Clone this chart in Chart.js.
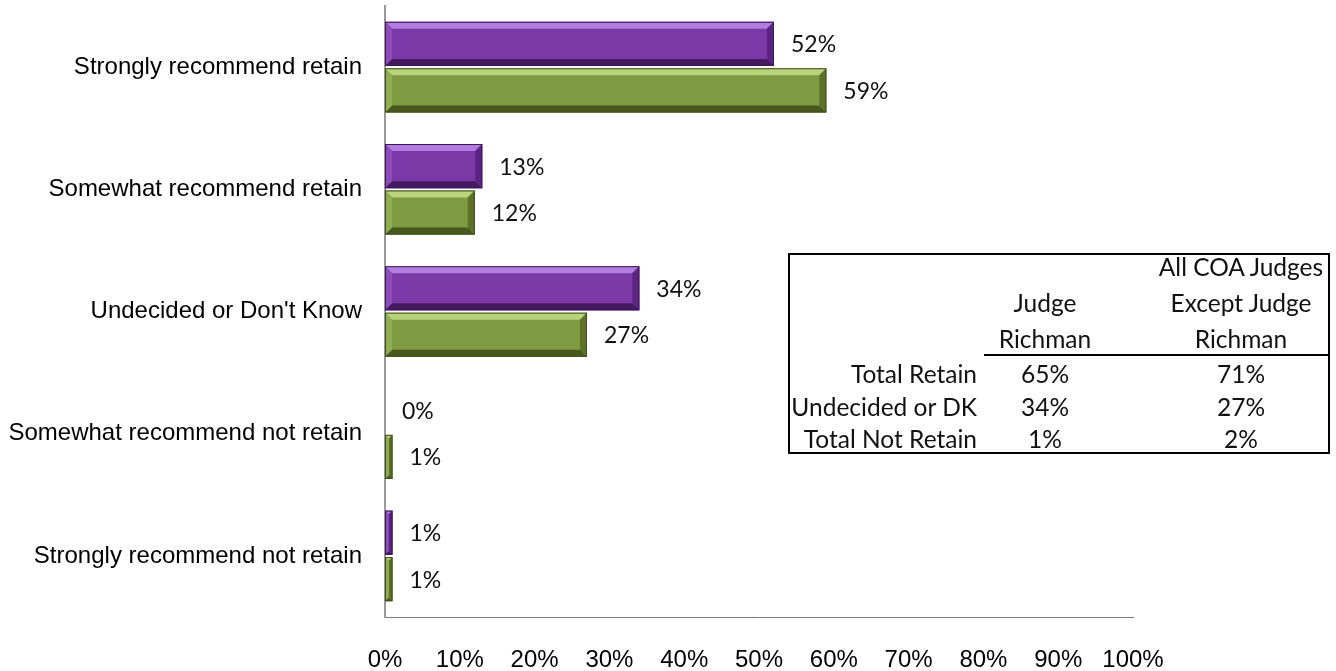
<!DOCTYPE html>
<html>
<head>
<meta charset="utf-8">
<script src="https://cdn.jsdelivr.net/npm/chart.js@4.4.1/dist/chart.umd.min.js"></script>
<style>
  html, body { margin: 0; padding: 0; background: #ffffff; }
  #wrap { position: relative; width: 1336px; height: 671px; overflow: hidden; }
  #chart { position: absolute; left: 0; top: 0; }
  #tbl { position: absolute; left: 788px; top: 253px; width: 542px; height: 201px;
         border: 2px solid #000; box-sizing: border-box; font-family: Lato, "Open Sans", sans-serif;
         font-size: 24.5px; color: #111; }
  .cell { position: absolute; white-space: nowrap; line-height: 1; transform: translateY(-50%); }
  .rlab { text-align: right; }
  .ctr { transform: translate(-50%, -50%); text-align: center; }
  #hline { position: absolute; left: 194px; right: 0; top: 99px; height: 2px; background: #000; }
</style>
</head>
<body>
<div id="wrap">
  <canvas id="chart" width="1336" height="671"></canvas>
  <div id="tbl"></div>
</div>
<script>
// ---- data ----
const categories = [
  "Strongly recommend retain",
  "Somewhat recommend retain",
  "Undecided or Don't Know",
  "Somewhat recommend not retain",
  "Strongly recommend not retain"
];
const judgeRichman = [52, 13, 34, 0, 1];
const allCoaJudges = [59, 12, 27, 1, 1];
const xTickValues = [0, 10, 20, 30, 40, 50, 60, 70, 80, 90, 100];

const tableHeader1 = ["Judge", "Richman"];
const tableHeader2 = ["All COA Judges", "Except Judge", "Richman"];
const tableRowLabels = ["Total Retain", "Undecided or DK", "Total Not Retain"];
const tableJudge = ["65%", "34%", "1%"];
const tableAll = ["71%", "27%", "2%"];

// ---- table overlay ----
(function buildTable() {
  const t = document.getElementById('tbl');
  const add = (txt, cls, x, y, right) => {
    const d = document.createElement('div');
    d.className = 'cell ' + cls;
    d.textContent = txt;
    d.style.top = y + 'px';
    if (right !== undefined) { d.style.right = right + 'px'; }
    else { d.style.left = x + 'px'; }
    t.appendChild(d);
  };
  const c1 = 1045 - 790, c2 = 1241 - 790;
  const hdrY = [12, 48, 84];
  tableHeader2.forEach((s, i) => add(s, 'ctr', c2, hdrY[i]));
  tableHeader1.forEach((s, i) => add(s, 'ctr', c1, hdrY[i + 1]));
  const rowY = [119, 152, 184];
  tableRowLabels.forEach((s, i) => add(s, 'rlab', 0, rowY[i], 542 - 191));
  tableJudge.forEach((s, i) => add(s, 'ctr', c1, rowY[i]));
  tableAll.forEach((s, i) => add(s, 'ctr', c2, rowY[i]));
  const h = document.createElement('div'); h.id = 'hline'; t.appendChild(h);
})();

// ---- bevel plugin ----
const palette = [
  { main: '#7a39a6', light: '#b17ee0', dark: '#45195f', side: '#5a2480', left: '#8c4cba', border: '#3d1656' },
  { main: '#7e9b42', light: '#b9d27c', dark: '#48591f', side: '#5c7229', left: '#8fad52', border: '#3f4e1b' }
];

const bevelPlugin = {
  id: 'bevel',
  afterDatasetsDraw(chart) {
    const ctx = chart.ctx;
    chart.data.datasets.forEach((ds, di) => {
      const meta = chart.getDatasetMeta(di);
      const p = palette[di];
      meta.data.forEach((el) => {
        const { x, y, base, height } = el.getProps(['x', 'y', 'base', 'height'], true);
        const l = Math.min(x, base), r = Math.max(x, base);
        const t = y - height / 2, b = y + height / 2;
        const w = r - l;
        if (w < 0.5) return;
        const bv = Math.min(7, w / 2, height / 2);
        ctx.save();
        ctx.fillStyle = p.light;
        ctx.beginPath(); ctx.moveTo(l, t); ctx.lineTo(r, t); ctx.lineTo(r - bv, t + bv); ctx.lineTo(l + bv, t + bv); ctx.closePath(); ctx.fill();
        ctx.fillStyle = p.dark;
        ctx.beginPath(); ctx.moveTo(l, b); ctx.lineTo(r, b); ctx.lineTo(r - bv, b - bv); ctx.lineTo(l + bv, b - bv); ctx.closePath(); ctx.fill();
        ctx.fillStyle = p.side;
        ctx.beginPath(); ctx.moveTo(r, t); ctx.lineTo(r, b); ctx.lineTo(r - bv, b - bv); ctx.lineTo(r - bv, t + bv); ctx.closePath(); ctx.fill();
        ctx.fillStyle = p.left;
        ctx.beginPath(); ctx.moveTo(l, t); ctx.lineTo(l, b); ctx.lineTo(l + bv, b - bv); ctx.lineTo(l + bv, t + bv); ctx.closePath(); ctx.fill();
        ctx.strokeStyle = p.border; ctx.lineWidth = 1;
        ctx.strokeRect(l + 0.5, t + 0.5, w - 1, height - 1);
        ctx.restore();
      });
    });
  }
};

// ---- value labels plugin ----
const labelPlugin = {
  id: 'vlabels',
  afterDatasetsDraw(chart) {
    const ctx = chart.ctx;
    ctx.save();
    ctx.font = '23px Lato, "Open Sans", sans-serif';
    ctx.fillStyle = '#111';
    ctx.textAlign = 'left';
    ctx.textBaseline = 'middle';
    chart.data.datasets.forEach((ds, di) => {
      const meta = chart.getDatasetMeta(di);
      meta.data.forEach((el, i) => {
        const { x, y } = el.getProps(['x', 'y'], true);
        ctx.fillText(ds.data[i] + '%', x + 17, y + 1);
      });
    });
    ctx.restore();
  }
};

new Chart(document.getElementById('chart'), {
  type: 'bar',
  data: {
    labels: categories,
    datasets: [
      { label: 'Judge Richman', data: judgeRichman, backgroundColor: palette[0].main, borderWidth: 0 },
      { label: 'All COA Judges Except Judge Richman', data: allCoaJudges, backgroundColor: palette[1].main, borderWidth: 0 }
    ]
  },
  options: {
    indexAxis: 'y',
    responsive: false,
    animation: false,
    devicePixelRatio: 1,
    layout: { padding: { top: 6, right: 203, bottom: 0, left: 0 } },
    categoryPercentage: 0.76,
    barPercentage: 0.95,
    plugins: { legend: { display: false }, tooltip: { enabled: false } },
    scales: {
      x: {
        min: 0, max: 100,
        afterBuildTicks(scale) { scale.ticks = xTickValues.map(v => ({ value: v })); },
        afterFit(scale) { scale.height = 54; scale.paddingLeft = 0; scale.paddingRight = 0; },
        grid: { display: false },
        border: { display: true, color: '#7a7a7a', width: 1 },
        ticks: {
          padding: 21,
          color: '#000',
          font: { family: '"Liberation Sans", Arial, sans-serif', size: 24 },
          callback: (v) => v + '%',
          maxRotation: 0, autoSkip: false
        }
      },
      y: {
        afterFit(scale) { scale.width = 385; scale.paddingTop = 0; scale.paddingBottom = 0; },
        grid: { display: false },
        border: { display: true, color: '#9a9a9a', width: 2 },
        ticks: {
          padding: 15,
          color: '#000',
          font: { family: '"Liberation Sans", Arial, sans-serif', size: 24 }
        }
      }
    }
  },
  plugins: [bevelPlugin, labelPlugin]
});
</script>
</body>
</html>
